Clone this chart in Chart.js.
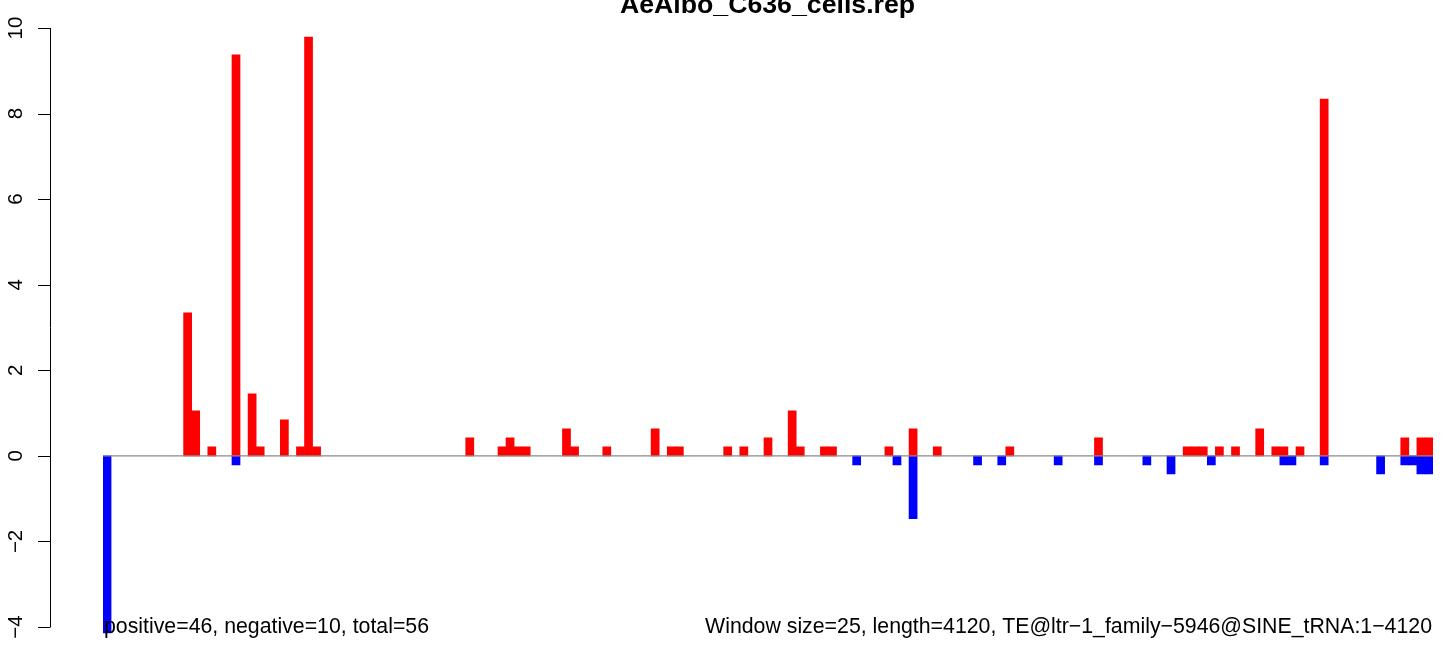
<!DOCTYPE html>
<html>
<head>
<meta charset="utf-8">
<script src="https://cdn.jsdelivr.net/npm/chart.js@4/dist/chart.umd.min.js"></script>
<style>
  html, body { margin: 0; padding: 0; background: #fff; }
  #wrap { width: 1444px; height: 646px; }
</style>
</head>
<body>
<div id="wrap"><canvas id="repChart" width="1444" height="646"></canvas></div>
<script>
// 25 bp windows over 4120 bp -> 165 bins
const binCount = 165;

const posBins = [10, 11, 13, 16, 18, 19, 22, 24, 25, 26, 45, 49, 50, 51, 52, 57, 58, 62, 68, 70, 71,
  77, 79, 82, 85, 86, 89, 90, 97, 100, 103, 112, 123, 134, 135, 136, 138, 140, 143,
  145, 146, 148, 151, 161, 163, 164];
const posVals = [3.34, 1.05, 0.21, 9.37, 1.45, 0.21, 0.84, 0.21, 9.79, 0.21, 0.42, 0.21, 0.42, 0.21, 0.21, 0.63, 0.21, 0.21, 0.63, 0.21, 0.21,
  0.21, 0.21, 0.42, 1.05, 0.21, 0.21, 0.21, 0.21, 0.63, 0.21, 0.21, 0.42, 0.21, 0.21, 0.21, 0.21, 0.21, 0.63,
  0.21, 0.21, 0.21, 8.34, 0.42, 0.42, 0.42];

const negBins = [0, 16, 93, 98, 100, 108, 111, 118, 123, 129, 132, 137, 146, 147, 151, 158, 161, 162, 163, 164];
const negVals = [-4.14, -0.21, -0.21, -0.21, -1.47, -0.21, -0.21, -0.21, -0.21, -0.21, -0.42, -0.21, -0.21, -0.21, -0.21, -0.42, -0.21, -0.21, -0.42, -0.42];

const yTicks = [-4, -2, 0, 2, 4, 6, 8, 10];

const titleText = "AeAlbo_C636_cells.rep";
const leftNote = "positive=46, negative=10, total=56";
const rightNote = "Window size=25, length=4120, TE@ltr\u22121_family\u22125946@SINE_tRNA:1\u22124120";

const labels = [];
const posData = [];
const negData = [];
for (let i = 0; i < binCount; i++) {
  labels.push(String(i + 1));
  posData.push(null);
  negData.push(null);
}
posBins.forEach((b, i) => { posData[b] = posVals[i]; });
negBins.forEach((b, i) => { negData[b] = negVals[i]; });

const FONT = '"Liberation Sans", Arial, Helvetica, sans-serif';

const rDecor = {
  id: "rDecor",
  afterDatasetsDraw(chart) {
    const ctx = chart.ctx;
    const area = chart.chartArea;
    const y = chart.scales.y;

    // zero line
    ctx.save();
    ctx.strokeStyle = "#8a8a8a";
    ctx.lineWidth = 1.3;
    ctx.beginPath();
    ctx.moveTo(area.left, y.getPixelForValue(0));
    ctx.lineTo(area.right, y.getPixelForValue(0));
    ctx.stroke();
    ctx.restore();
  },
  afterDraw(chart) {
    const ctx = chart.ctx;
    const y = chart.scales.y;
    const axisX = 50.5;

    ctx.save();
    ctx.strokeStyle = "#000";
    ctx.lineWidth = 1;
    ctx.beginPath();
    ctx.moveTo(axisX, y.getPixelForValue(yTicks[0]));
    ctx.lineTo(axisX, y.getPixelForValue(yTicks[yTicks.length - 1]));
    yTicks.forEach(v => {
      const py = Math.round(y.getPixelForValue(v)) + 0.5;
      ctx.moveTo(axisX, py);
      ctx.lineTo(38, py);
    });
    ctx.stroke();

    // tick labels, parallel to the axis
    ctx.fillStyle = "#000";
    ctx.font = "20.5px " + FONT;
    ctx.textAlign = "center";
    ctx.textBaseline = "alphabetic";
    yTicks.forEach(v => {
      const txt = v < 0 ? "\u2212" + Math.abs(v) : String(v);
      ctx.save();
      ctx.translate(22, y.getPixelForValue(v));
      ctx.rotate(-Math.PI / 2);
      ctx.fillText(txt, 0, 0);
      ctx.restore();
    });

    // title (clipped at the top like the original)
    ctx.font = "bold 26.7px " + FONT;
    ctx.textAlign = "center";
    ctx.fillText(titleText, 767.5, 13);

    // notes
    ctx.font = "21.3px " + FONT;
    ctx.textAlign = "left";
    ctx.fillText(leftNote, 104, 633);
    ctx.textAlign = "right";
    ctx.fillText(rightNote, 1432, 633);
    ctx.restore();
  }
};

const ctx = document.getElementById("repChart").getContext("2d");
new Chart(ctx, {
  type: "bar",
  data: {
    labels: labels,
    datasets: [
      {
        label: "positive",
        data: posData,
        backgroundColor: "#ff0000",
        borderWidth: 0,
        barPercentage: 1,
        categoryPercentage: 1,
        grouped: false
      },
      {
        label: "negative",
        data: negData,
        backgroundColor: "#0000ff",
        borderWidth: 0,
        barPercentage: 1,
        categoryPercentage: 1,
        grouped: false
      }
    ]
  },
  options: {
    responsive: false,
    animation: false,
    layout: {
      padding: { left: 103, right: 11, top: 15.16, bottom: 6.16 }
    },
    plugins: {
      legend: { display: false },
      title: { display: false },
      tooltip: { enabled: false }
    },
    scales: {
      x: {
        display: false,
        offset: true
      },
      y: {
        display: false,
        min: -4.3,
        max: 10.3
      }
    }
  },
  plugins: [rDecor]
});
</script>
</body>
</html>
